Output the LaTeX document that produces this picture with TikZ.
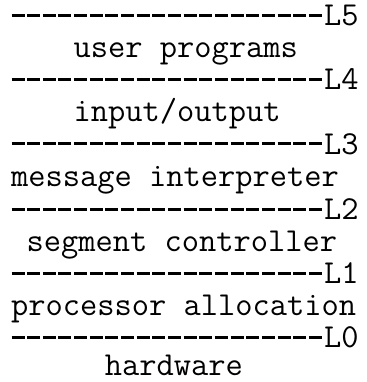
\documentclass[tikz,border=0pt]{standalone}
\usepackage{fontspec}
\begin{document}
\begin{tikzpicture}[x=1pt,y=-1pt,
  layertext/.style={font=\ttfamily\fontsize{33.5}{34}\selectfont\addfontfeatures{FakeStretch=0.89,FakeBold=2.2},
    anchor=base west, inner sep=0pt, outer sep=0pt, text=black},
  levelrule/.style={line width=3pt, dash pattern=on 13pt off 2.65pt, black}]
\useasboundingbox (0,0) rectangle (366,382);
% one character cell of the typed page
\def\cw{15.65}
\def\xo{11}
% level labels at the right end of each dashed rule
\node[layertext] (L5) at (\xo+20*\cw,26)  {L5};
\node[layertext] (L4) at (\xo+20*\cw,90)  {L4};
\node[layertext] (L3) at (\xo+20*\cw,154) {L3};
\node[layertext] (L2) at (\xo+20*\cw,219) {L2};
\node[layertext] (L1) at (\xo+20*\cw,283) {L1};
\node[layertext] (L0) at (\xo+20*\cw,347) {L0};
% layer names between the rules
\node[layertext] (user) at (\xo+4*\cw,58)  {user programs};
\node[layertext] (io)   at (\xo+4*\cw,122) {input/output};
\node[layertext] (msg)  at (\xo,186)       {message interpreter};
\node[layertext] (seg)  at (\xo+1*\cw,251) {segment controller};
\node[layertext] (proc) at (\xo,315)       {processor allocation};
\node[layertext] (hw)   at (\xo+6*\cw,375) {hardware};
% dashed rules
\foreach \lv/\y in {L5/26,L4/90,L3/154,L2/219,L1/283,L0/347}{
  \coordinate (s\lv) at (11.5,\y-10);
  \draw[levelrule] (s\lv) -- (s\lv -| \lv.west);
}
\end{tikzpicture}
\end{document}
